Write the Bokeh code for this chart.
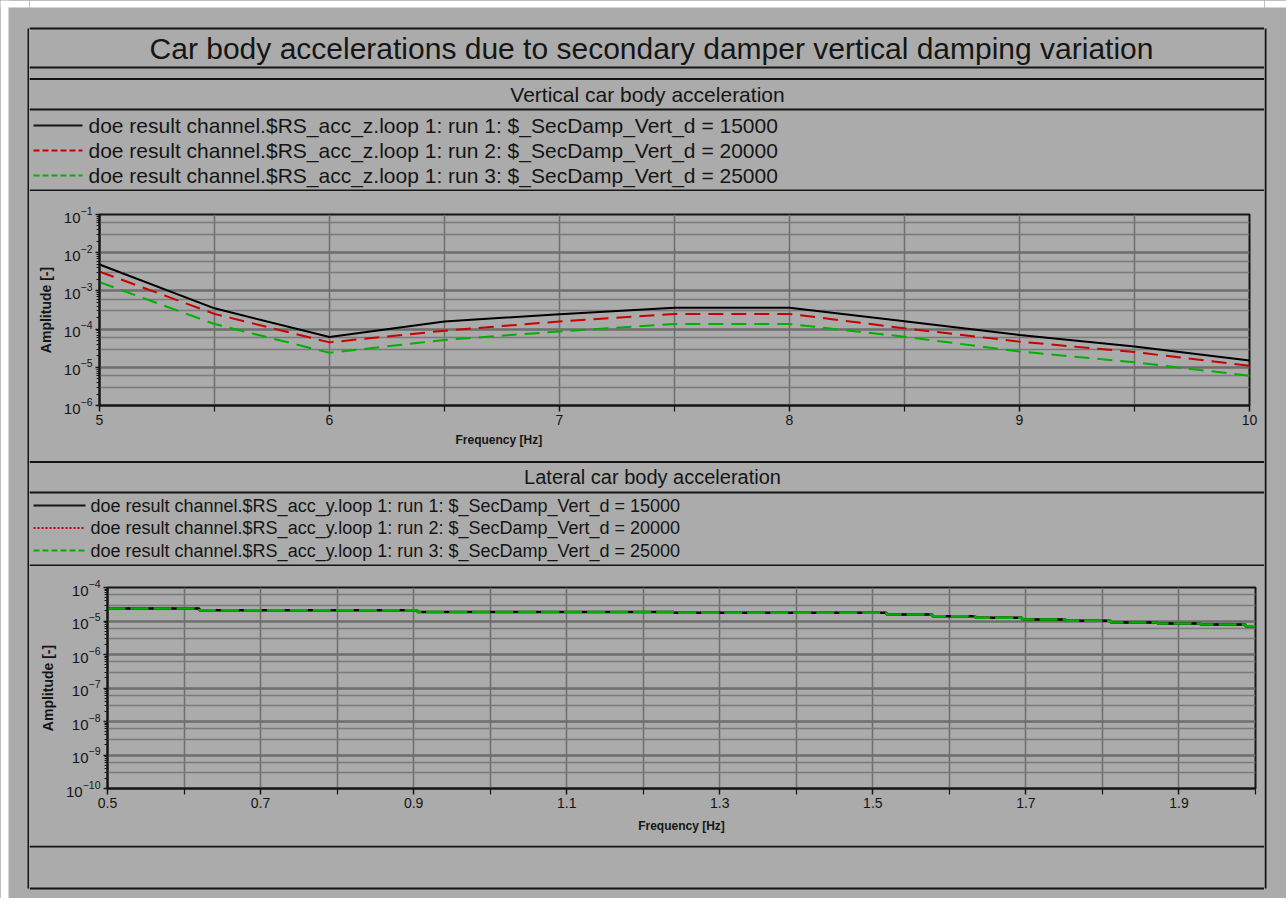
from bokeh.plotting import figure
from bokeh.layouts import column, row
from bokeh.models import Range1d, FixedTicker, Title, Plot
from bokeh.embed import file_html
from bokeh.resources import INLINE
from bokeh.core.properties import value

# ---------------- data ----------------
chart_title = "Car body accelerations due to secondary damper vertical damping variation"
vert_title = "Vertical car body acceleration"
lat_title = "Lateral car body acceleration"

vert_names = [
    "doe result channel.$RS_acc_z.loop 1: run 1: $_SecDamp_Vert_d = 15000",
    "doe result channel.$RS_acc_z.loop 1: run 2: $_SecDamp_Vert_d = 20000",
    "doe result channel.$RS_acc_z.loop 1: run 3: $_SecDamp_Vert_d = 25000",
]
lat_names = [
    "doe result channel.$RS_acc_y.loop 1: run 1: $_SecDamp_Vert_d = 15000",
    "doe result channel.$RS_acc_y.loop 1: run 2: $_SecDamp_Vert_d = 20000",
    "doe result channel.$RS_acc_y.loop 1: run 3: $_SecDamp_Vert_d = 25000",
]

freq_vert = [5.0, 5.5, 6.0, 6.5, 7.0, 7.5, 8.0, 8.5, 9.0, 9.5, 10.0]
vert_run1 = [4.9e-3, 3.5e-4, 6.2e-5, 1.58e-4, 2.45e-4, 3.6e-4, 3.6e-4, 1.6e-4, 7.0e-5, 3.5e-5, 1.5e-5]
vert_run2 = [3.2e-3, 2.5e-4, 4.5e-5, 9.1e-5, 1.58e-4, 2.5e-4, 2.5e-4, 1.05e-4, 4.7e-5, 2.5e-5, 1.1e-5]
vert_run3 = [1.7e-3, 1.36e-4, 2.4e-5, 5.2e-5, 8.7e-5, 1.36e-4, 1.36e-4, 6.3e-5, 2.6e-5, 1.35e-5, 6.0e-6]

freq_lat = [0.5, 0.62, 0.905, 1.24, 1.518, 1.578, 1.634, 1.695, 1.752, 1.811, 1.872, 1.928, 1.987, 2.0]
lat_run1 = [2.36e-5, 2.10e-5, 1.87e-5, 1.75e-5, 1.56e-5, 1.39e-5, 1.24e-5, 1.11e-5, 1.01e-5, 9.0e-6, 8.4e-6, 7.9e-6, 7.0e-6, 7.0e-6]
lat_run2 = [2.36e-5, 2.10e-5, 1.87e-5, 1.75e-5, 1.56e-5, 1.39e-5, 1.24e-5, 1.11e-5, 1.01e-5, 9.0e-6, 8.4e-6, 7.9e-6, 7.0e-6, 7.0e-6]
lat_run3 = [2.36e-5, 2.10e-5, 1.87e-5, 1.75e-5, 1.56e-5, 1.39e-5, 1.24e-5, 1.11e-5, 1.01e-5, 9.0e-6, 8.4e-6, 7.9e-6, 7.0e-6, 7.0e-6]

vert_xticks = [5, 6, 7, 8, 9, 10]
vert_xminor = [5.5, 6.5, 7.5, 8.5, 9.5]
vert_decades = [1e-6, 1e-5, 1e-4, 1e-3, 1e-2, 1e-1]
lat_xticks = [0.5, 0.7, 0.9, 1.1, 1.3, 1.5, 1.7, 1.9]
lat_xminor = [0.6, 0.8, 1.0, 1.2, 1.4, 1.6, 1.8, 2.0]
lat_decades = [1e-10, 1e-9, 1e-8, 1e-7, 1e-6, 1e-5, 1e-4]

# ---------------- style ----------------
BG = "#ababab"
GRID = "#6e6e6e"
GRID2 = "#7a7a7a"
INK = "#151515"
RED = "#c80000"
GREEN = "#00b000"
FONT = "Liberation Sans"

X0 = 29          # page x where the middle column starts
X1 = 1264        # page x where the right strip starts
W_MID = X1 - X0
W_LEFT = X0
W_RIGHT = 22
H_TOTAL = 898
HAS_FRAME_ALIGN = "frame_align" in Plot.properties()


def no_align(f):
    if HAS_FRAME_ALIGN:
        f.frame_align = False
    return f


def band(w, h):
    f = figure(width=w, height=h, x_range=Range1d(0, w), y_range=Range1d(h, 0),
               x_axis_type=None, y_axis_type=None, toolbar_location=None,
               output_backend="svg", min_border=0, outline_line_color=None,
               background_fill_color=BG, border_fill_color=BG)
    return no_align(f)


def hline(f, y, w, lw=2):
    f.line([0, w], [y, y], line_color=INK, line_width=lw)


def txt(f, x, y, s, size, align="left", style="normal"):
    f.text(x=[x], y=[y], text=[s], text_font=value(FONT), text_font_size=size,
           text_align=align, text_baseline="middle", text_color=INK, text_font_style=style)


def minor_list(decades, mults):
    return [m * d for d in decades[:-1] for m in mults]


def make_plot(w, h, xr, yr, left, right, top, bottom, xticks, xminor, decades):
    p = figure(width=w, height=h, x_range=Range1d(*xr), y_range=Range1d(*yr),
               y_axis_type="log", toolbar_location=None, output_backend="svg",
               min_border_left=left, min_border_right=right,
               min_border_top=top, min_border_bottom=bottom,
               background_fill_color=BG, border_fill_color=BG,
               outline_line_color=INK, outline_line_width=2)
    no_align(p)
    p.xaxis.ticker = FixedTicker(ticks=xticks, minor_ticks=xminor)
    p.yaxis.ticker = FixedTicker(ticks=decades, minor_ticks=minor_list(decades, [2, 3, 4, 5, 6, 7, 8, 9]))
    p.xgrid.ticker = FixedTicker(ticks=xticks, minor_ticks=xminor)
    p.ygrid.ticker = FixedTicker(ticks=decades, minor_ticks=minor_list(decades, [3, 6]))
    p.xgrid.grid_line_color = GRID
    p.xgrid.grid_line_width = 1.5
    p.xgrid.minor_grid_line_color = GRID
    p.xgrid.minor_grid_line_width = 1.5
    p.ygrid.grid_line_color = GRID
    p.ygrid.grid_line_width = 2.5
    p.ygrid.minor_grid_line_color = GRID2
    p.ygrid.minor_grid_line_width = 1.5
    for ax in (p.xaxis[0], p.yaxis[0]):
        ax.axis_line_color = INK
        ax.axis_line_width = 2
        ax.major_tick_line_color = INK
        ax.minor_tick_line_color = INK
        ax.major_tick_line_width = 1.5
        ax.minor_tick_line_width = 1.2
        ax.major_tick_in = 0
        ax.minor_tick_in = 0
        ax.major_label_text_font = FONT
        ax.major_label_text_color = INK
        ax.axis_label_text_font = FONT
        ax.axis_label_text_font_style = "bold"
        ax.axis_label_text_color = INK
    p.xaxis.axis_label_text_font_size = "12px"
    p.yaxis.axis_label_text_font_size = "14px"
    p.xaxis.major_tick_out = 6
    p.xaxis.minor_tick_out = 6
    p.xaxis.major_label_text_font_size = "14px"
    p.xaxis.major_label_standoff = 3
    p.yaxis.major_tick_out = 4
    p.yaxis.minor_tick_out = 3
    p.yaxis.major_label_text_font_size = "15px"
    p.yaxis.major_label_standoff = 3
    p.yaxis.axis_label = "Amplitude [-]"
    p.yaxis.axis_label_standoff = 7
    return p


# ---------------- left / right strips (outer box sides + page margin) ----------------
left_strip = band(W_LEFT, H_TOTAL)
left_strip.quad(left=[0], right=[8], top=[0], bottom=[H_TOTAL], fill_color="white", line_color=None)
left_strip.quad(left=[0], right=[W_LEFT], top=[0], bottom=[7], fill_color="white", line_color=None)
left_strip.line([28, 28], [28, 888], line_color=INK, line_width=2)
right_strip = band(W_RIGHT, H_TOTAL)
right_strip.quad(left=[0], right=[W_RIGHT], top=[0], bottom=[7], fill_color="white", line_color=None)
right_strip.line([1, 1], [28, 888], line_color=INK, line_width=2)

# ---------------- top band: title + vertical legend (page y 0..191) ----------------
top = band(W_MID, 191)
top.quad(left=[0], right=[W_MID], top=[0], bottom=[7], fill_color="white", line_color=None)
for y in (28, 67, 78.5, 109, 190):
    hline(top, y, W_MID)
txt(top, 651 - X0, 47.5, chart_title, "30px", align="center")
txt(top, 647 - X0, 94, vert_title, "21px", align="center")
vert_styles = [(INK, "solid"), (RED, "6 3"), (GREEN, "6 3")]
for i, (name, (c, d)) in enumerate(zip(vert_names, vert_styles)):
    yy = 125 + 25 * i
    top.line([33 - X0, 82 - X0], [yy, yy], line_color=c, line_width=2, line_dash=d)
    txt(top, 88 - X0, yy, name, "21px")

# ---------------- vertical plot (page y 191..460) ----------------
pv = make_plot(W_MID, 269, (5, 10), (1e-6, 1e-1), 99 - X0, X1 - 1249, 214 - 191, 460 - 405,
               vert_xticks, vert_xminor, vert_decades)
pv.line(freq_vert, vert_run1, line_color="black", line_width=2)
pv.line(freq_vert, vert_run2, line_color=RED, line_width=2, line_dash="15 8")
pv.line(freq_vert, vert_run3, line_color=GREEN, line_width=2, line_dash="15 8")
pv.add_layout(Title(text="Frequency [Hz]", align="left", offset=356, standoff=6,
                    text_font=FONT, text_font_size="12px", text_font_style="bold",
                    text_color=INK), "below")

# ---------------- lateral title + legend (page y 460..566) ----------------
mid = band(W_MID, 106)
for y in (1.5, 32, 105):
    hline(mid, y, W_MID)
txt(mid, 652 - X0, 16.5, lat_title, "20px", align="center")
lat_styles = [(INK, "solid"), (RED, "2 2"), (GREEN, "6 3")]
for i, (name, (c, d)) in enumerate(zip(lat_names, lat_styles)):
    yy = 45 + 22.5 * i
    mid.line([33 - X0, 85 - X0], [yy, yy], line_color=c, line_width=2, line_dash=d)
    txt(mid, 90 - X0, yy, name, "18px")

# ---------------- lateral plot (page y 566..845) ----------------
pl = make_plot(W_MID, 279, (0.5, 2.0), (1e-10, 1e-4), 107 - X0, X1 - 1255, 587 - 566, 845 - 788,
               lat_xticks, lat_xminor, lat_decades)
pl.step(freq_lat, lat_run2, mode="after", line_color=RED, line_width=2, line_dash="2 2")
pl.step(freq_lat, lat_run1, mode="after", line_color="black", line_width=2.5)
pl.step(freq_lat, lat_run3, mode="after", line_color=GREEN, line_width=2.5, line_dash="18 5")
pl.xaxis.axis_label = "Frequency [Hz]"
pl.xaxis.axis_label_standoff = 8

# ---------------- bottom band (page y 845..898) ----------------
bot = band(W_MID, 53)
hline(bot, 1, W_MID)
hline(bot, 43, W_MID)

middle = column(top, pv, mid, pl, bot, spacing=0, styles={"background-color": BG})
layout = row(left_strip, middle, right_strip, spacing=0, styles={"background-color": BG})

open("out.html", "w").write(file_html(layout, INLINE, "Car body accelerations"))
